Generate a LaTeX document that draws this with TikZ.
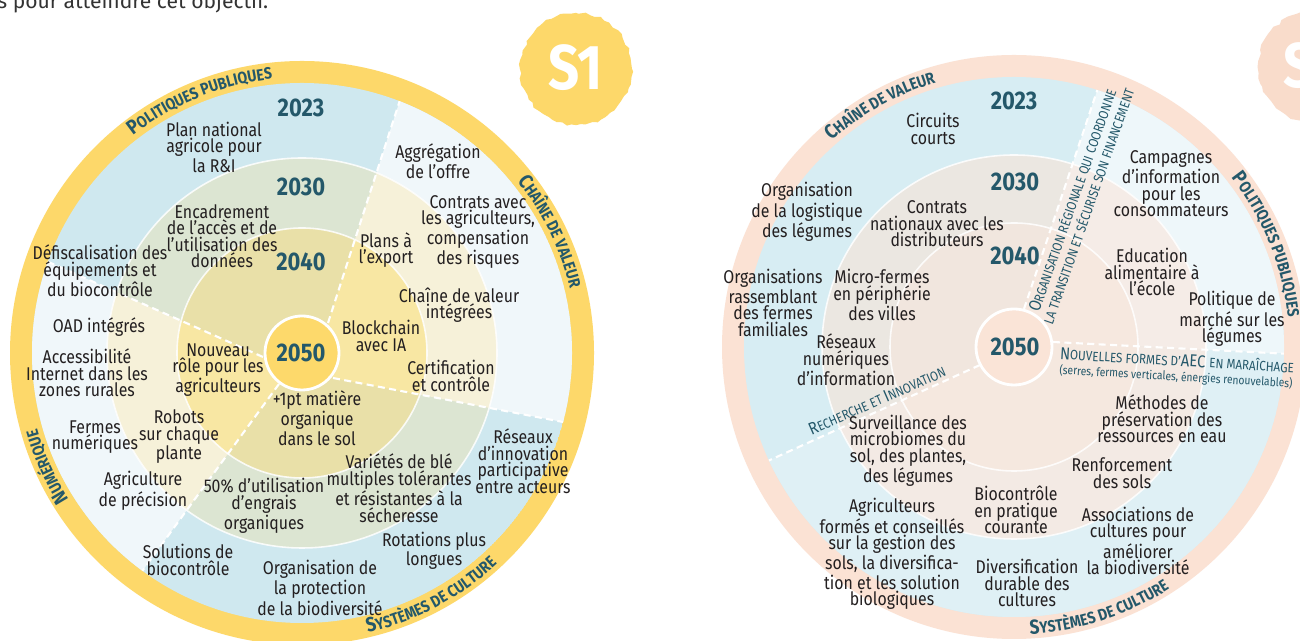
\documentclass[tikz,border=0pt]{standalone}
\usepackage{fontspec}
\setmainfont{Fira Sans}[FakeStretch=0.86]
\newfontfamily\plainfont{Fira Sans}
\usetikzlibrary{calc,decorations.text,decorations.pathmorphing}
\definecolor{txtc}{HTML}{231F20}
\definecolor{teal1}{HTML}{24586A}
\definecolor{gray1}{HTML}{333333}
\definecolor{ringY}{HTML}{FDD86A}
\definecolor{lA1}{HTML}{CFE8EF}
\definecolor{lA2}{HTML}{F0F7FA}
\definecolor{lB1}{HTML}{DCE5D2}
\definecolor{lB2}{HTML}{F6F1D9}
\definecolor{lC1}{HTML}{E9E0A8}
\definecolor{lC2}{HTML}{F8E7A3}
\definecolor{lD}{HTML}{FDD96B}
\definecolor{ringP}{HTML}{FBE2D4}
\definecolor{rA1}{HTML}{D7EDF3}
\definecolor{rA2}{HTML}{EEF7FA}
\definecolor{rA3}{HTML}{DFF0F5}
\definecolor{rB1}{HTML}{EBE7E1}
\definecolor{rB2}{HTML}{F5ECE7}
\definecolor{rB3}{HTML}{F3EAE4}
\definecolor{rC1}{HTML}{F1E6DE}
\definecolor{rC2}{HTML}{F6E8DF}
\definecolor{rC3}{HTML}{F5E8DF}
\definecolor{rD}{HTML}{FAE4D7}
\definecolor{badgeP}{HTML}{F9DCCB}
\newcommand\capA{\fontsize{11.5}{11.5}\selectfont\bfseries}
\newcommand\capB{\fontsize{9.3}{9.3}\selectfont\bfseries}
\newcommand\capC{\fontsize{9.8}{9.8}\selectfont}
\newcommand\capD{\fontsize{7.7}{7.7}\selectfont}
\tikzset{
  txt/.style={align=center, font=\fontsize{10.5}{9.4}\selectfont, text=txtc, inner sep=0pt},
  yr/.style={font=\fontsize{14.5}{14.5}\selectfont\bfseries, text=teal1, inner sep=0pt},
  dsh/.style={white, line width=1.2pt, dash pattern=on 4pt off 2.5pt},
  ringline/.style={white, line width=0.9pt, opacity=0.85},
  lab/.style={text=teal1, inner sep=0pt},
}
\begin{document}
\begin{tikzpicture}[x=0.02cm, y=0.02cm]
\path[use as bounding box] (0,0) rectangle (1300,641);
\clip (0,0) rectangle (1300,641);
\fill[white] (0,0) rectangle (1300,641);

\node[anchor=base west, inner sep=0, font=\plainfont\fontsize{12}{14}\selectfont, text=gray1] (top) at (-3,632) {s pour atteindre cet objectif.};

% ---------------- LEFT DIAGRAM ----------------
\coordinate (C1) at (302,288);
\coordinate (l1a) at (328,318); \coordinate (l1b) at (400,541);
\coordinate (l2a) at (333,263); \coordinate (l2b) at (563,219);
\coordinate (l3a) at (279,257); \coordinate (l3b) at (143,71);
\coordinate (l4a) at (263,284); \coordinate (l4b) at (123,346);
\coordinate (l1f) at ($(l1a)!3!(l1b)$);
\coordinate (l2f) at ($(l2a)!3!(l2b)$);
\coordinate (l3f) at ($(l3a)!3!(l3b)$);
\coordinate (l4f) at ($(l4a)!3!(l4b)$);

\fill[ringY] (C1) circle (292);
\foreach \r/\ca/\cb in {270/lA1/lA2, 195/lB1/lB2, 125/lC1/lC2} {
  \begin{scope}
    \clip (C1) circle (\r);
    \fill[\ca] (C1) circle (\r);
    \fill[\cb] (l1a) -- (l1f) -- (1200,1000) -- (1200,-200) -- (l2f) -- (l2a) -- cycle;
    \fill[\cb] (l4a) -- (l4f) -- (-600,470) -- (-600,-400) -- (l3f) -- (l3a) -- cycle;
  \end{scope}
}
\draw[ringline] (C1) circle (195);
\draw[ringline] (C1) circle (125);
\begin{scope}
  \clip (C1) circle (270);
  \draw[dsh] (l1a) -- (l1f);
  \draw[dsh] (l2a) -- (l2f);
  \draw[dsh] (l3a) -- (l3f);
  \draw[dsh] (l4a) -- (l4f);
\end{scope}
\filldraw[fill=lD, draw=white, line width=1.6pt] (C1) circle (37);

\path[decorate, decoration={text along path, text align=center, text color=teal1,
  text={|\capA|P|\capB|OLITIQUES PUBLIQUES}}] ($(C1)+(150:275.5)$) arc[start angle=150, end angle=74, radius=275.5];
\path[decorate, decoration={text along path, text align=center, text color=teal1,
  text={|\capA|C|\capB|HAÎNE DE VALEUR}}] ($(C1)+(60:275.5)$) arc[start angle=60, end angle=-8, radius=275.5];
\path[decorate, decoration={text along path, text align=center, text color=teal1,
  text={|\capA|S|\capB|YSTÈMES DE CULTURE}}] ($(C1)+(-100:287.5)$) arc[start angle=-100, end angle=-24, radius=287.5];
\path[decorate, decoration={text along path, text align=center, text color=teal1,
  text={|\capA|N|\capB|UMÉRIQUE}}] ($(C1)+(235:275.5)$) arc[start angle=235, end angle=173, radius=275.5];

\node[yr] (y23) at (301,533) {2023};
\node[yr] (y30) at (301,454) {2030};
\node[yr] (y40) at (301,379) {2040};
\node[yr] (y50) at (301,288) {2050};

\node[txt] (t1) at (214,494) {Plan national\\agricole pour\\la R\&I};
\node[txt] (t2) at (222,405) {Encadrement\\de l’accès et de\\l’utilisation des\\données};
\node[txt] (t3) at (100,370) {Défiscalisation des\\équipements et\\du biocontrôle};
\node[txt] (t4) at (99,314) {OAD intégrés};
\node[txt] (t5) at (87,268) {Accessibilité\\Internet dans les\\zones rurales};
\node[txt] (t6) at (218,271) {Nouveau\\rôle pour les\\agriculteurs};
\node[txt] (t7) at (95,204) {Fermes\\numériques};
\node[txt] (t8) at (179,204) {Robots\\sur chaque\\plante};
\node[txt] (t9) at (143,150) {Agriculture\\de précision};
\node[txt] (t10) at (264,135) {50\% d’utilisation\\d’engrais\\organiques};
\node[txt] (t11) at (317,223) {+1pt matière\\organique\\dans le sol};
\node[txt] (t12) at (188,81) {Solutions de\\biocontrôle};
\node[txt] (t13) at (320,53) {Organisation de\\la protection\\de la biodiversité};
\node[txt] (t14) at (399,153) {Variétés de blé\\multiples tolérantes\\et résistantes à la\\sécheresse};
\node[txt] (t15) at (434,90) {Rotations plus\\longues};
\node[txt] (t16) at (523,180) {Réseaux\\d’innovation\\participative\\entre acteurs};
\node[txt] (t17) at (451,265) {Certification\\et contrôle};
\node[txt] (t18) at (381,305) {Blockchain\\avec IA};
\node[txt] (t19) at (459,336) {Chaîne de valeur\\intégrées};
\node[txt] (t20) at (386,391) {Plans à\\l’export};
\node[txt] (t21) at (478,409) {Contrats avec\\les agriculteurs,\\compensation\\des risques};
\node[txt] (t22) at (438,480) {Aggrégation\\de l’offre};

% badge S1
\fill[ringY, decorate, decoration={random steps, segment length=3pt, amplitude=0.8pt}] (576,572) circle (56);
\node[font=\fontsize{36}{36}\selectfont\bfseries, text=white, inner sep=0] (s1) at (576,573) {S1};

% ---------------- RIGHT DIAGRAM ----------------
\coordinate (C2) at (1014,294);
\coordinate (d1a) at (1024,332); \coordinate (d1b) at (1098,553);
\coordinate (d2a) at (1053,299); \coordinate (d2b) at (1290,287);
\coordinate (d3a) at (980,276); \coordinate (d3b) at (770,181);
\coordinate (d1f) at ($(d1a)!3!(d1b)$);
\coordinate (d2f) at ($(d2a)!3!(d2b)$);
\coordinate (d3f) at ($(d3a)!3!(d3b)$);

\fill[ringP] (C2) circle (292);
\foreach \r/\ca/\cb/\cc in {270/rA1/rA2/rA3, 192/rB1/rB2/rB3, 124/rC1/rC2/rC3} {
  \begin{scope}
    \clip (C2) circle (\r);
    \fill[\ca] (C2) circle (\r);
    \fill[\cb] (d1a) -- (d1f) -- (1900,1000) -- (1900,250) -- (d2f) -- (d2a) -- cycle;
    \fill[\cc] (d2a) -- (d2f) -- (1900,250) -- (1900,-500) -- (200,-500) -- (d3f) -- (d3a) -- cycle;
  \end{scope}
}
\draw[ringline] (C2) circle (192);
\draw[ringline] (C2) circle (124);
\begin{scope}
  \clip (C2) circle (270);
  \draw[dsh] (d1a) -- (d1f);
  \draw[dsh] (d2a) -- (d2f);
  \draw[dsh] (d3a) -- (d3f);
\end{scope}
\filldraw[fill=rD, draw=white, line width=1.6pt] (C2) circle (38);

\path[decorate, decoration={text along path, text align=center, text color=teal1,
  text={|\capA|C|\capB|HAÎNE DE VALEUR}}] ($(C2)+(155:275.5)$) arc[start angle=155, end angle=83, radius=275.5];
\path[decorate, decoration={text along path, text align=center, text color=teal1,
  text={|\capA|P|\capB|OLITIQUES PUBLIQUES}}] ($(C2)+(58:275.5)$) arc[start angle=58, end angle=-14, radius=275.5];
\path[decorate, decoration={text along path, text align=center, text color=teal1,
  text={|\capA|S|\capB|YSTÈMES DE CULTURE}}] ($(C2)+(-110:287.5)$) arc[start angle=-110, end angle=-34, radius=287.5];

\node[yr] (z23) at (1014,540) {2023};
\node[yr] (z30) at (1015,459) {2030};
\node[yr] (z40) at (1015,385) {2040};
\node[yr] (z50) at (1015,294) {2050};

\node[txt] (r1) at (933,512) {Circuits\\courts};
\node[txt] (r2) at (807,429) {Organisation\\de la logistique\\des légumes};
\node[txt] (r3) at (937,417) {Contrats\\nationaux avec les\\distributeurs};
\node[txt] (r4) at (773,338) {Organisations\\rassemblant\\des fermes\\familiales};
\node[txt] (r5) at (882,346) {Micro-fermes\\en périphérie\\des villes};
\node[txt] (r6) at (846,281) {Réseaux\\numériques\\d’information};
\node[txt] (r8) at (908,190) {Surveillance des\\microbiomes du\\sol, des plantes,\\des légumes};
\node[txt] (r9) at (892,87) {Agriculteurs\\formés et conseillés\\sur la gestion des\\sols, la diversifica-\\tion et les solution\\biologiques};
\node[txt] (r10) at (1016,131) {Biocontrôle\\en pratique\\courante};
\node[txt] (r11) at (1027,58) {Diversification\\durable des\\cultures};
\node[txt] (r12) at (1138,100) {Associations de\\cultures pour\\améliorer\\la biodiversité};
\node[txt] (r13) at (1122,168) {Renforcement\\des sols};
\node[txt] (r14) at (1162,222) {Méthodes de\\préservation des\\ressources en eau};
\node[txt] (r17) at (1232,322) {Politique de\\marché sur les\\légumes};
\node[txt] (r18) at (1152,369) {Education\\alimentaire à\\l’école};
\node[txt] (r19) at (1171,457) {Campagnes\\d’information\\pour les\\consommateurs};

\node[lab, rotate=23.7] (r7) at (877,241) {{\capC R}{\capD ECHERCHE ET }{\capC I}{\capD NNOVATION}};
\node[lab, rotate=-3.3] (r15) at (1177,281) {{\capC N}{\capD OUVELLES FORMES D’}{\capC AEC} {\capD EN MARAÎCHAGE}};
\node[lab, rotate=-3.3, font=\fontsize{6.8}{6.8}\selectfont] (r16) at (1176,264) {(serres, fermes verticales, énergies renouvelables)};
\node[lab, rotate=70.7, align=center, font=\fontsize{7.7}{9.5}\selectfont] (r20) at (1080,438) {{\capC O}{\capD RGANISATION RÉGIONALE QUI COORDONNE}\\{\capD LA TRANSITION ET SÉCURISE SON FINANCEMENT}};

% badge S2 (cut)
\fill[badgeP, decorate, decoration={random steps, segment length=3pt, amplitude=0.8pt}] (1313,574) circle (55);
\node[anchor=east, font=\fontsize{36}{36}\selectfont\bfseries, text=white, inner sep=0] (s2) at (1315,575) {S};
\end{tikzpicture}
\end{document}
